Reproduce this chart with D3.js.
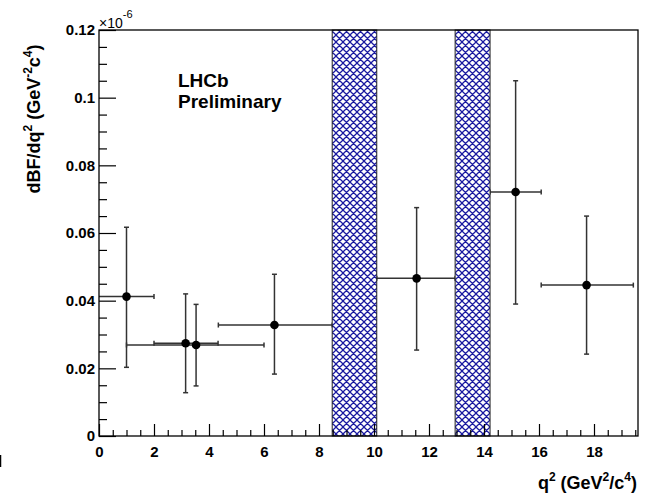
<!DOCTYPE html>
<html><head><meta charset="utf-8">
<script src="https://cdn.jsdelivr.net/npm/d3@7"></script>
<style>body{margin:0;background:#fff} svg{display:block} text{font-family:"Liberation Sans",Arial,Helvetica,sans-serif}</style>
</head><body><svg id="c" width="651" height="495"></svg>
<script>
// ---- data ----
const q2     = [1.0, 3.15, 3.53, 6.38, 11.55, 15.15, 17.73];
const q2Lo   = [0.0, 2.0, 1.0, 4.34, 10.1, 14.22, 16.08];
const q2Hi   = [2.0, 4.33, 6.0, 8.48, 12.95, 16.08, 19.43];
const dBF    = [0.0412, 0.0274, 0.0269, 0.0328, 0.0466, 0.0721, 0.0446];
const dBFLo  = [0.0203, 0.0128, 0.0148, 0.0183, 0.0254, 0.0390, 0.0242];
const dBFHi  = [0.0617, 0.0420, 0.0389, 0.0478, 0.0675, 0.1050, 0.0650];
const vetoLo = [8.48, 12.95];
const vetoHi = [10.1, 14.22];
const xTicks = [0, 2, 4, 6, 8, 10, 12, 14, 16, 18];
const yTicks = [0, 0.02, 0.04, 0.06, 0.08, 0.1, 0.12];

const svg = d3.select("#c");
const x = d3.scaleLinear().domain([0, 19.6]).range([99, 638]);
const y = d3.scaleLinear().domain([0, 0.12]).range([436, 30]);

// hatch pattern
const defs = svg.append("defs");
const pat = defs.append("pattern").attr("id", "hatch").attr("patternUnits", "userSpaceOnUse")
  .attr("width", 7).attr("height", 7);
pat.append("rect").attr("width", 7).attr("height", 7).attr("fill", "#fff");
pat.append("path").attr("d", "M-1,1 l2,-2 M0,7 l7,-7 M6,8 l2,-2 M-1,6 l2,2 M0,0 l7,7 M6,-1 l2,2")
  .attr("stroke", "#1a1aa0").attr("stroke-width", 1.25).attr("fill", "none");

const data = q2.map((v, i) => ({x: v, xl: q2Lo[i], xh: q2Hi[i], y: dBF[i], yl: dBFLo[i], yh: dBFHi[i]}));

// error bars
const eg = svg.append("g").attr("stroke", "#333").attr("stroke-width", 1.5).attr("fill", "none");
data.forEach(d => {
  eg.append("line").attr("x1", x(d.xl)).attr("x2", x(d.xh)).attr("y1", y(d.y)).attr("y2", y(d.y));
  eg.append("line").attr("x1", x(d.x)).attr("x2", x(d.x)).attr("y1", y(d.yl)).attr("y2", y(d.yh));
  eg.append("line").attr("x1", x(d.x) - 2.5).attr("x2", x(d.x) + 2.5).attr("y1", y(d.yl)).attr("y2", y(d.yl));
  eg.append("line").attr("x1", x(d.x) - 2.5).attr("x2", x(d.x) + 2.5).attr("y1", y(d.yh)).attr("y2", y(d.yh));
  if (d.xl > 0) eg.append("line").attr("x1", x(d.xl)).attr("x2", x(d.xl)).attr("y1", y(d.y) - 2.5).attr("y2", y(d.y) + 2.5);
  eg.append("line").attr("x1", x(d.xh)).attr("x2", x(d.xh)).attr("y1", y(d.y) - 2.5).attr("y2", y(d.y) + 2.5);
});

// veto bands
svg.append("g").selectAll("rect").data(vetoLo).join("rect")
  .attr("x", (d, i) => x(d)).attr("width", (d, i) => x(vetoHi[i]) - x(d))
  .attr("y", y(0.12)).attr("height", y(0) - y(0.12))
  .attr("fill", "url(#hatch)").attr("stroke", "#222").attr("stroke-width", 1);

// points
svg.append("g").selectAll("circle").data(data).join("circle")
  .attr("cx", d => x(d.x)).attr("cy", d => y(d.y)).attr("r", 4.3).attr("fill", "#000");

// frame
svg.append("rect").attr("x", 99).attr("y", 30).attr("width", 638 - 99).attr("height", 436 - 30)
  .attr("fill", "none").attr("stroke", "#000").attr("stroke-width", 1.3);

// axes
const fmt = d => String(+d.toFixed(2));
svg.append("g").attr("transform", `translate(${x(0)},0)`)
  .call(d3.axisLeft(y).tickValues(yTicks).tickSize(-17).tickPadding(4).tickFormat(fmt));
svg.append("g").attr("transform", `translate(0,${y(0)})`)
  .call(d3.axisBottom(x).tickValues(xTicks).tickSize(-12).tickPadding(10).tickFormat(fmt));
const yMinor = d3.range(0, 0.1201, 0.005).filter(v => Math.abs(v / 0.02 - Math.round(v / 0.02)) > 1e-6);
const xMinor = d3.range(0, 19.6, 0.5).filter(v => v % 2 !== 0);
svg.append("g").attr("transform", `translate(${x(0)},0)`)
  .call(d3.axisLeft(y).tickValues(yMinor).tickSize(-8).tickFormat(""));
svg.append("g").attr("transform", `translate(0,${y(0)})`)
  .call(d3.axisBottom(x).tickValues(xMinor).tickSize(-6).tickFormat(""));
svg.selectAll(".domain").remove();
svg.selectAll(".tick line").attr("stroke", "#000").attr("stroke-width", 1.2);
svg.selectAll(".tick text").attr("font-size", 15).attr("font-weight", "bold")
  .attr("font-family", "'Liberation Sans',Arial,sans-serif").attr("fill", "#000");

// exponent label
const ex = svg.append("text").attr("x", 99).attr("y", 28).attr("font-size", 14).attr("fill", "#000");
ex.append("tspan").text("×10");
ex.append("tspan").attr("dy", -10).attr("font-size", 11).text("-6");

// axis titles
const yt = svg.append("text").attr("transform", "translate(40,119) rotate(-90)")
  .attr("text-anchor", "middle").attr("font-size", 18).attr("font-weight", "bold").attr("fill", "#000");
yt.append("tspan").text("dBF/dq");
yt.append("tspan").attr("dy", -8).attr("font-size", 12).text("2");
yt.append("tspan").attr("dy", 8).text(" (GeV");
yt.append("tspan").attr("dy", -8).attr("font-size", 12).text("-2");
yt.append("tspan").attr("dy", 8).text("c");
yt.append("tspan").attr("dy", -8).attr("font-size", 12).text("4");
yt.append("tspan").attr("dy", 8).text(")");

const xt = svg.append("text").attr("x", 637).attr("y", 489)
  .attr("text-anchor", "end").attr("font-size", 18).attr("font-weight", "bold").attr("fill", "#000");
xt.append("tspan").text("q");
xt.append("tspan").attr("dy", -8).attr("font-size", 12).text("2");
xt.append("tspan").attr("dy", 8).text(" (GeV");
xt.append("tspan").attr("dy", -8).attr("font-size", 12).text("2");
xt.append("tspan").attr("dy", 8).text("/c");
xt.append("tspan").attr("dy", -8).attr("font-size", 12).text("4");
xt.append("tspan").attr("dy", 8).text(")");

// LHCb label
svg.append("text").attr("x", 178).attr("y", 87).attr("font-size", 19).attr("font-weight", "bold").text("LHCb");
svg.append("text").attr("x", 178).attr("y", 108).attr("font-size", 19).attr("font-weight", "bold").text("Preliminary");

// sliver of a clipped glyph at the far left edge (drawn as a mark)
svg.append("line").attr("x1", 0.5).attr("x2", 0.5).attr("y1", 455).attr("y2", 467)
  .attr("stroke", "#000").attr("stroke-width", 1.5);
</script>
</body></html>
